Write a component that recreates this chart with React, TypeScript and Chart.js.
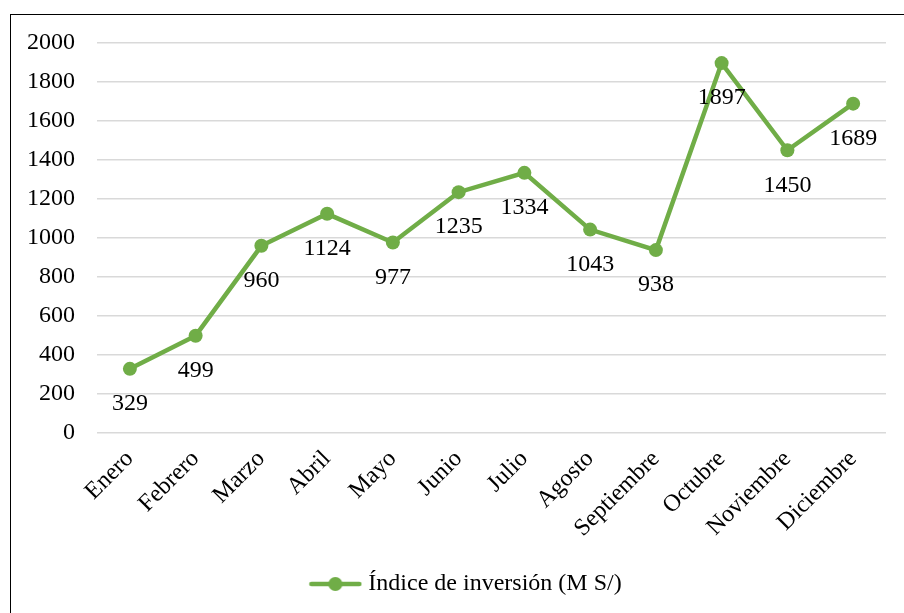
import React, { useEffect, useRef } from "react";
import { Chart, registerables } from "chart.js";

Chart.register(...registerables);

const categories = ["Enero", "Febrero", "Marzo", "Abril", "Mayo", "Junio", "Julio", "Agosto", "Septiembre", "Octubre", "Noviembre", "Diciembre"];
const values = [329, 499, 960, 1124, 977, 1235, 1334, 1043, 938, 1897, 1450, 1689];
const seriesLabel = "Índice de inversión (M S/)";
const yMin = 0;
const yMax = 2000;
const yStep = 200;

const GREEN = "#70AD47";
const FONT = "'Liberation Serif', 'Times New Roman', serif";
const FS = 24;

function makeLegendImage(): HTMLCanvasElement {
  const c = document.createElement("canvas");
  c.width = 76;
  c.height = 16;
  const ctx = c.getContext("2d")!;
  const ox = 22;
  ctx.strokeStyle = GREEN;
  ctx.lineWidth = 4.5;
  ctx.lineCap = "round";
  ctx.beginPath();
  ctx.moveTo(ox + 3, 8);
  ctx.lineTo(ox + 51, 8);
  ctx.stroke();
  ctx.fillStyle = GREEN;
  ctx.beginPath();
  ctx.arc(ox + 27, 8, 7, 0, Math.PI * 2);
  ctx.fill();
  return c;
}

const dataLabels = {
  id: "dataLabels",
  afterDatasetsDraw(chart: any) {
    const ctx = chart.ctx;
    const meta = chart.getDatasetMeta(0);
    const ds = chart.data.datasets[0];
    ctx.save();
    ctx.font = `${FS}px ${FONT}`;
    ctx.fillStyle = "#000";
    ctx.textAlign = "center";
    ctx.textBaseline = "middle";
    meta.data.forEach((pt: any, i: number) => {
      ctx.fillText(String(ds.data[i]), pt.x, pt.y + 35);
    });
    ctx.restore();
  },
};

export default function App() {
  const ref = useRef<HTMLCanvasElement | null>(null);
  useEffect(() => {
    const legendImg = makeLegendImage();
    const chart = new Chart(ref.current!, {
      type: "line",
      data: {
        labels: categories,
        datasets: [
          {
            label: seriesLabel,
            data: values,
            borderColor: GREEN,
            backgroundColor: GREEN,
            borderWidth: 4.5,
            pointRadius: 7,
            pointBackgroundColor: GREEN,
            pointBorderColor: GREEN,
            pointBorderWidth: 0,
            tension: 0,
            pointStyle: "circle",
          },
        ],
      },
      options: {
        animation: false,
        responsive: true,
        maintainAspectRatio: false,
        layout: { padding: { left: 28, right: 18, top: 43, bottom: 7 } },
        scales: {
          x: {
            offset: true,
            grid: { display: false, drawTicks: false },
            border: { display: false },
            ticks: {
              autoSkip: false,
              minRotation: 45,
              maxRotation: 45,
              padding: 12,
              color: "#000",
              font: { family: FONT, size: FS },
            },
            afterFit: (s: any) => {
              s.height = 129;
            },
          },
          y: {
            min: yMin,
            max: yMax,
            grid: { color: "#D9D9D9", lineWidth: 1.5, drawTicks: false },
            border: { display: false },
            ticks: {
              stepSize: yStep,
              padding: 22,
              color: "#000",
              font: { family: FONT, size: FS },
              callback: (v: any) => String(v),
            },
            afterFit: (s: any) => {
              s.width = 69;
            },
          },
        },
        plugins: {
          legend: {
            position: "bottom",
            labels: {
              usePointStyle: true,
              pointStyleWidth: 64,
              color: "#000",
              font: { family: FONT, size: FS },
              padding: 10,
              generateLabels: () => [
                {
                  text: seriesLabel,
                  pointStyle: legendImg,
                  fillStyle: GREEN,
                  strokeStyle: GREEN,
                  lineWidth: 0,
                  datasetIndex: 0,
                  hidden: false,
                  fontColor: "#000",
                },
              ],
            },
          },
          tooltip: { enabled: false },
        },
      },
      plugins: [dataLabels],
    });
    return () => chart.destroy();
  }, []);

  return (
    <div style={{ position: "absolute", left: 0, top: 0, width: 904, height: 613, background: "#fff", overflow: "hidden" }}>
      <div
        style={{
          position: "absolute",
          left: 10,
          top: 14,
          width: 894,
          height: 599,
          borderLeft: "1.5px solid #000",
          borderTop: "1.5px solid #000",
          boxSizing: "border-box",
        }}
      />
      <div style={{ position: "absolute", left: 0, top: 0, width: 904, height: 613 }}>
        <canvas ref={ref} />
      </div>
    </div>
  );
}
